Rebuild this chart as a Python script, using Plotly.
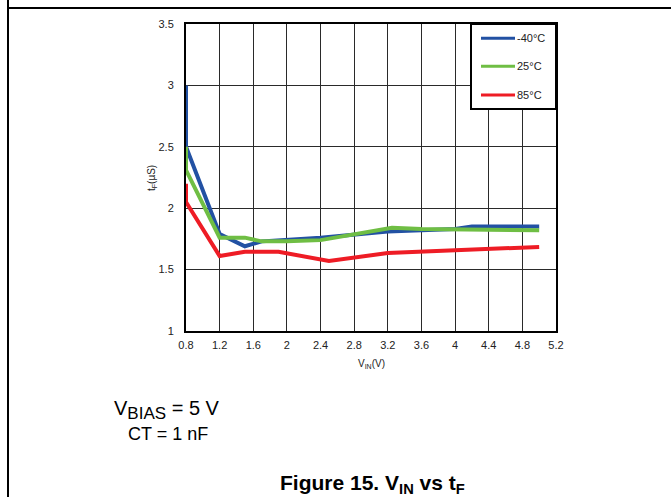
import plotly.graph_objects as go

# Fall time t_F versus input voltage V_IN at three temperatures
series_names = ["-40°C", "25°C", "85°C"]
series_colors = ["#2251a3", "#6fbe44", "#ee1c25"]

vin_m40 = [0.8, 0.8, 1.2, 1.5, 1.7, 2.4, 3.2, 4.0, 4.2, 5.0]
tf_m40 = [3.0, 2.5, 1.79, 1.69, 1.73, 1.76, 1.81, 1.83, 1.85, 1.85]

vin_25 = [0.8, 0.8, 1.2, 1.5, 1.7, 2.0, 2.4, 3.25, 3.6, 5.0]
tf_25 = [2.5, 2.31, 1.76, 1.76, 1.73, 1.73, 1.74, 1.84, 1.83, 1.82]

vin_85 = [0.8, 0.8, 1.2, 1.5, 1.9, 2.5, 3.2, 5.0]
tf_85 = [2.2, 2.05, 1.61, 1.645, 1.645, 1.57, 1.635, 1.685]

x_ticks = [0.8, 1.2, 1.6, 2.0, 2.4, 2.8, 3.2, 3.6, 4.0, 4.4, 4.8, 5.2]
x_tick_text = ["0.8", "1.2", "1.6", "2", "2.4", "2.8", "3.2", "3.6", "4", "4.4", "4.8", "5.2"]
y_ticks = [1, 1.5, 2, 2.5, 3, 3.5]
y_tick_text = ["1", "1.5", "2", "2.5", "3", "3.5"]

W, H = 671, 497
L, R, T, B = 186, 556, 24, 331  # plot area edges in pixels


def px(x):
    return (x - L) / (R - L)


def py(y):
    return (B - y) / (B - T)


FONT = "Liberation Sans, Arial, sans-serif"
fig = go.Figure()

for vx, vy, name, color in [
    (vin_m40, tf_m40, series_names[0], series_colors[0]),
    (vin_25, tf_25, series_names[1], series_colors[1]),
    (vin_85, tf_85, series_names[2], series_colors[2]),
]:
    fig.add_trace(go.Scatter(x=vx, y=vy, mode="lines", name=name,
                             line=dict(color=color, width=4),
                             showlegend=False, hoverinfo="skip"))

axis_common = dict(showline=True, mirror=True, linecolor="black", linewidth=2,
                   showgrid=True, gridcolor="#2a2a2a", gridwidth=1,
                   zeroline=False, ticks="", tickfont=dict(family=FONT, size=11, color="#222"))

fig.update_xaxes(range=[0.8, 5.2], tickmode="array", tickvals=x_ticks,
                 ticktext=x_tick_text, ticklabelstandoff=3, **axis_common)
fig.update_yaxes(range=[1, 3.5], tickmode="array", tickvals=y_ticks,
                 ticktext=y_tick_text, ticklabelstandoff=8, **axis_common)

shapes = []
# page frame lines (left and top)
shapes.append(dict(type="line", xref="paper", yref="paper",
                   x0=px(8), x1=px(671), y0=py(8), y1=py(8),
                   line=dict(color="black", width=2)))
shapes.append(dict(type="line", xref="paper", yref="paper",
                   x0=px(8), x1=px(8), y0=py(0), y1=py(497),
                   line=dict(color="black", width=2)))
# legend box
shapes.append(dict(type="rect", xref="paper", yref="paper", layer="above",
                   x0=px(471), x1=px(556), y0=py(109), y1=py(24),
                   fillcolor="white", line=dict(color="black", width=2)))

annotations = []
legend_rows = [38.3, 66.3, 95]
for yy, name, color in zip(legend_rows, series_names, series_colors):
    shapes.append(dict(type="line", xref="paper", yref="paper", layer="above",
                       x0=px(481), x1=px(515), y0=py(yy), y1=py(yy),
                       line=dict(color=color, width=3)))
    annotations.append(dict(xref="paper", yref="paper", x=px(515), y=py(yy),
                            xanchor="left", yanchor="middle", showarrow=False,
                            text=name, font=dict(family=FONT, size=11, color="#222")))

# axis titles
annotations.append(dict(xref="paper", yref="paper", x=px(371), y=py(364),
                        xanchor="center", yanchor="middle", showarrow=False,
                        text="V<sub>IN</sub>(V)", font=dict(family=FONT, size=10, color="#222")))
annotations.append(dict(xref="paper", yref="paper", x=px(152), y=py(178),
                        xanchor="center", yanchor="middle", showarrow=False, textangle=-90,
                        text="t<sub>F</sub>(µS)", font=dict(family=FONT, size=10, color="#222")))

# conditions and figure caption
annotations.append(dict(xref="paper", yref="paper", x=px(112), y=py(410),
                        xanchor="left", yanchor="middle", showarrow=False,
                        text="V<sub><span style=\"font-size:17px\">BIAS</span></sub> = 5 V",
                        font=dict(family=FONT, size=20, color="black")))
annotations.append(dict(xref="paper", yref="paper", x=px(126), y=py(434),
                        xanchor="left", yanchor="middle", showarrow=False,
                        text="CT = 1 nF", font=dict(family=FONT, size=18, color="black")))
annotations.append(dict(xref="paper", yref="paper", x=px(372), y=py(484),
                        xanchor="center", yanchor="middle", showarrow=False,
                        text="<b>Figure 15. V<sub>IN</sub> vs t<sub>F</sub></b>",
                        font=dict(family=FONT, size=21, color="black")))

fig.update_layout(width=W, height=H, autosize=False,
                  margin=dict(l=L, r=W - R, t=T, b=H - B),
                  paper_bgcolor="white", plot_bgcolor="white",
                  shapes=shapes, annotations=annotations, showlegend=False)

fig.write_html("out.html")
